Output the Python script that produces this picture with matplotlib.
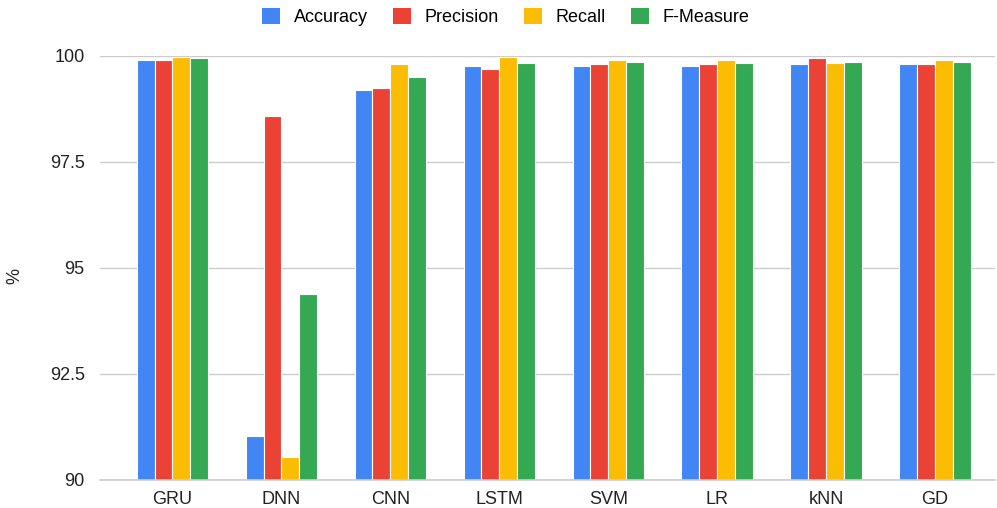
import matplotlib.pyplot as plt
import numpy as np
from matplotlib.patches import Patch

plt.rcParams['font.family'] = ['Liberation Sans', 'DejaVu Sans']

# model names and metric values (%)
models = ['GRU', 'DNN', 'CNN', 'LSTM', 'SVM', 'LR', 'kNN', 'GD']
accuracy = [99.91, 91.04, 99.20, 99.76, 99.76, 99.76, 99.81, 99.81]
precision = [99.91, 98.59, 99.24, 99.69, 99.81, 99.81, 99.95, 99.81]
recall = [99.98, 90.54, 99.80, 99.98, 99.91, 99.91, 99.83, 99.91]
f_measure = [99.95, 94.39, 99.51, 99.83, 99.87, 99.83, 99.87, 99.87]

metrics = ['Accuracy', 'Precision', 'Recall', 'F-Measure']
colors = ['#4285F4', '#EA4335', '#FBBC04', '#34A853']
series = [accuracy, precision, recall, f_measure]

fig = plt.figure(figsize=(9.97, 5.08), dpi=100)
ax = fig.add_axes([100 / 997, 28 / 508, 895 / 997, 424 / 508])

x = np.arange(len(models))
step = 0.164
for i, (vals, c) in enumerate(zip(series, colors)):
    heights = np.array(vals) - 90
    ax.bar(x + (i - 1.5) * step, heights, width=step, bottom=90,
           color=c, edgecolor='white', linewidth=0.8, zorder=3)

ax.set_ylim(90, 100)
ax.set_xlim(-0.665, 7.55)
ax.set_yticks([90, 92.5, 95, 97.5, 100])
ax.set_yticklabels(['90', '92.5', '95', '97.5', '100'])
ax.set_xticks(x)
ax.set_xticklabels(models)
ax.tick_params(axis='both', length=0, labelsize=13, colors='#222222')
ax.tick_params(axis='x', pad=8)
ax.tick_params(axis='y', pad=11)
ax.grid(axis='y', color='#cccccc', linewidth=1, zorder=0)
# baseline at 90 drawn unclipped so it shows in full
ax.axhline(90, color='#cccccc', linewidth=1.2, zorder=4, clip_on=False)
for s in ax.spines.values():
    s.set_visible(False)

fig.text(15 / 997, 1 - 276 / 508, '%', rotation=90, ha='center', va='center',
         fontsize=13, color='#222222')

handles = [Patch(facecolor=c, edgecolor='none') for c in colors]
fig.legend(handles, metrics, loc='center', bbox_to_anchor=(506 / 997, 1 - 17 / 508),
           ncol=4, frameon=False, fontsize=13, handlelength=1.0, handleheight=0.95,
           handletextpad=0.75, columnspacing=1.4)

fig.savefig('out.png', dpi=100)
